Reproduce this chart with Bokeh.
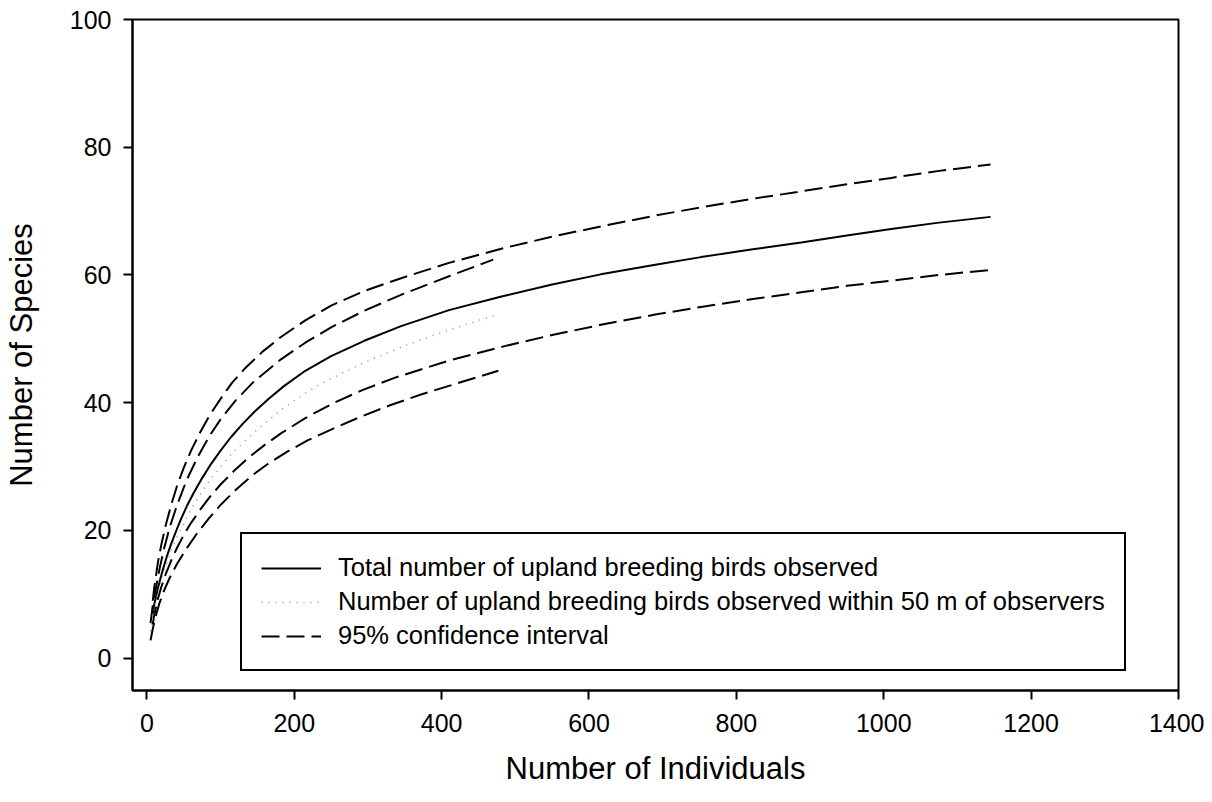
from bokeh.plotting import figure
from bokeh.models import Range1d, Legend, LegendItem, FixedTicker
from bokeh.embed import file_html
from bokeh.resources import INLINE

# --- data ---
total_x = [8, 10, 15, 21, 27, 33, 40, 46, 55, 64, 75, 87, 100, 114, 130, 146, 165, 186, 215, 250,
           295, 345, 410, 480, 550, 616, 690, 752, 820, 888, 950, 1010, 1075, 1145]
total_y = [7.0, 8.4, 11.0, 13.6, 15.9, 17.9, 20.0, 21.7, 24.0, 26.0, 28.2, 30.4, 32.5, 34.6, 36.7,
           38.6, 40.6, 42.6, 45.0, 47.3, 49.7, 52.0, 54.5, 56.6, 58.5, 60.1, 61.6, 62.8, 64.0, 65.1,
           66.2, 67.2, 68.2, 69.1]

total_up_x = [8, 10, 15, 20, 26, 33, 41, 50, 60, 72, 85, 100, 116, 135, 157, 182, 215, 250, 295,
              345, 410, 484, 550, 616, 690, 752, 820, 883, 950, 1010, 1075, 1145]
total_up_y = [9.0, 11.0, 15.0, 18.0, 21.0, 24.0, 27.0, 29.8, 32.5, 35.3, 38.0, 40.6, 43.2, 45.6,
              48.0, 50.3, 52.9, 55.2, 57.5, 59.5, 61.9, 64.2, 66.0, 67.6, 69.3, 70.6, 71.9, 73.0,
              74.2, 75.2, 76.3, 77.3]

total_lo_x = [8, 10, 15, 20, 26, 33, 41, 50, 60, 72, 85, 100, 118, 140, 160, 182, 215, 254, 295,
              336, 410, 487, 550, 616, 690, 752, 820, 888, 950, 1010, 1075, 1145]
total_lo_y = [5.3, 6.8, 9.3, 11.3, 13.3, 15.3, 17.3, 19.3, 21.2, 23.2, 25.2, 27.2, 29.3, 31.6,
              33.4, 35.2, 37.6, 40.0, 42.1, 43.9, 46.6, 48.9, 50.6, 52.2, 53.8, 55.0, 56.2, 57.3,
              58.3, 59.1, 60.0, 60.8]

near_x = [5, 10, 15, 20, 26, 33, 41, 50, 60, 72, 85, 100, 118, 140, 160, 188, 215, 245, 295, 349,
          410, 478]
near_y = [4.2, 7.8, 10.3, 12.4, 14.6, 16.8, 19.0, 21.2, 23.3, 25.6, 27.8, 30.0, 32.4, 34.8, 36.8,
          39.4, 41.5, 43.5, 46.3, 48.9, 51.4, 53.9]

near_up_x = [5, 8, 12, 17, 23, 31, 41, 54, 69, 85, 100, 120, 145, 182, 215, 250, 295, 345, 410, 470]
near_up_y = [5.5, 8.3, 10.8, 13.9, 17.0, 20.5, 24.0, 27.9, 31.5, 34.8, 37.4, 40.3, 43.3, 46.8, 49.4,
             51.8, 54.4, 56.9, 59.8, 62.4]

near_lo_x = [5, 8, 12, 17, 23, 31, 41, 54, 69, 85, 100, 120, 145, 164, 190, 218, 250, 290, 330, 372,
             420, 477]
near_lo_y = [2.8, 4.6, 6.6, 8.6, 10.5, 12.6, 14.8, 17.2, 19.7, 22.0, 24.0, 26.3, 28.8, 30.4, 32.3,
             34.1, 35.8, 37.8, 39.6, 41.3, 43.0, 45.0]

x_ticks = [0, 200, 400, 600, 800, 1000, 1200, 1400]
y_ticks = [0, 20, 40, 60, 80, 100]

legend_labels = [
    "Total number of upland breeding birds observed",
    "Number of upland breeding birds observed within 50 m of observers",
    "95% confidence interval",
]

FONT = "Liberation Sans"

p = figure(width=1204, height=794, output_backend="svg", toolbar_location=None,
           x_range=Range1d(-19.5, 1400), y_range=Range1d(-5.05, 100),
           min_border_left=132, min_border_right=26, min_border_top=19,
           min_border_bottom=104)

p.xgrid.visible = False
p.ygrid.visible = False
p.outline_line_color = "black"
p.outline_line_width = 2
p.outline_line_alpha = 1
p.background_fill_color = "white"
p.border_fill_color = "white"

for ax in (p.xaxis[0], p.yaxis[0]):
    ax.axis_line_width = 2
    ax.axis_line_color = "black"
    ax.major_tick_line_width = 2
    ax.major_tick_in = 0
    ax.major_tick_out = 9
    ax.minor_tick_line_color = None
    ax.major_label_text_font = FONT
    ax.major_label_text_font_size = "25px"
    ax.major_label_text_color = "black"
    ax.axis_label_text_font = FONT
    ax.axis_label_text_font_style = "normal"
    ax.axis_label_text_font_size = "31px"
    ax.axis_label_text_color = "black"

p.xaxis.ticker = FixedTicker(ticks=x_ticks)
p.yaxis.ticker = FixedTicker(ticks=y_ticks)
p.xaxis.axis_label = "Number of Individuals"
p.yaxis.axis_label = "Number of Species"
p.xaxis.major_label_standoff = 14
p.yaxis.major_label_standoff = 12
p.xaxis.axis_label_standoff = 16
p.yaxis.axis_label_standoff = 28

DASH = "18 7"
r_total = p.line(total_x, total_y, line_color="black", line_width=2)
r_near = p.line(near_x, near_y, line_color="#8c8ca0", line_width=1.5, line_dash="1 6")
r_ci = p.line(total_up_x, total_up_y, line_color="black", line_width=2, line_dash=DASH)
p.line(total_lo_x, total_lo_y, line_color="black", line_width=2, line_dash=DASH)
p.line(near_up_x, near_up_y, line_color="black", line_width=2, line_dash=DASH)
p.line(near_lo_x, near_lo_y, line_color="black", line_width=2, line_dash=DASH)

legend = Legend(items=[
    LegendItem(label=legend_labels[0], renderers=[r_total]),
    LegendItem(label=legend_labels[1], renderers=[r_near]),
    LegendItem(label=legend_labels[2], renderers=[r_ci]),
], location=(108, 19))
legend.label_text_font = FONT
legend.label_text_font_size = "25.5px"
legend.label_text_color = "black"
legend.glyph_width = 60
legend.glyph_height = 20
legend.label_standoff = 17
legend.padding = 19
legend.spacing = 5
legend.margin = 0
legend.border_line_color = "black"
legend.border_line_width = 2
legend.border_line_alpha = 1
legend.background_fill_alpha = 1
p.add_layout(legend, "center")

open("out.html", "w").write(file_html(p, INLINE))
